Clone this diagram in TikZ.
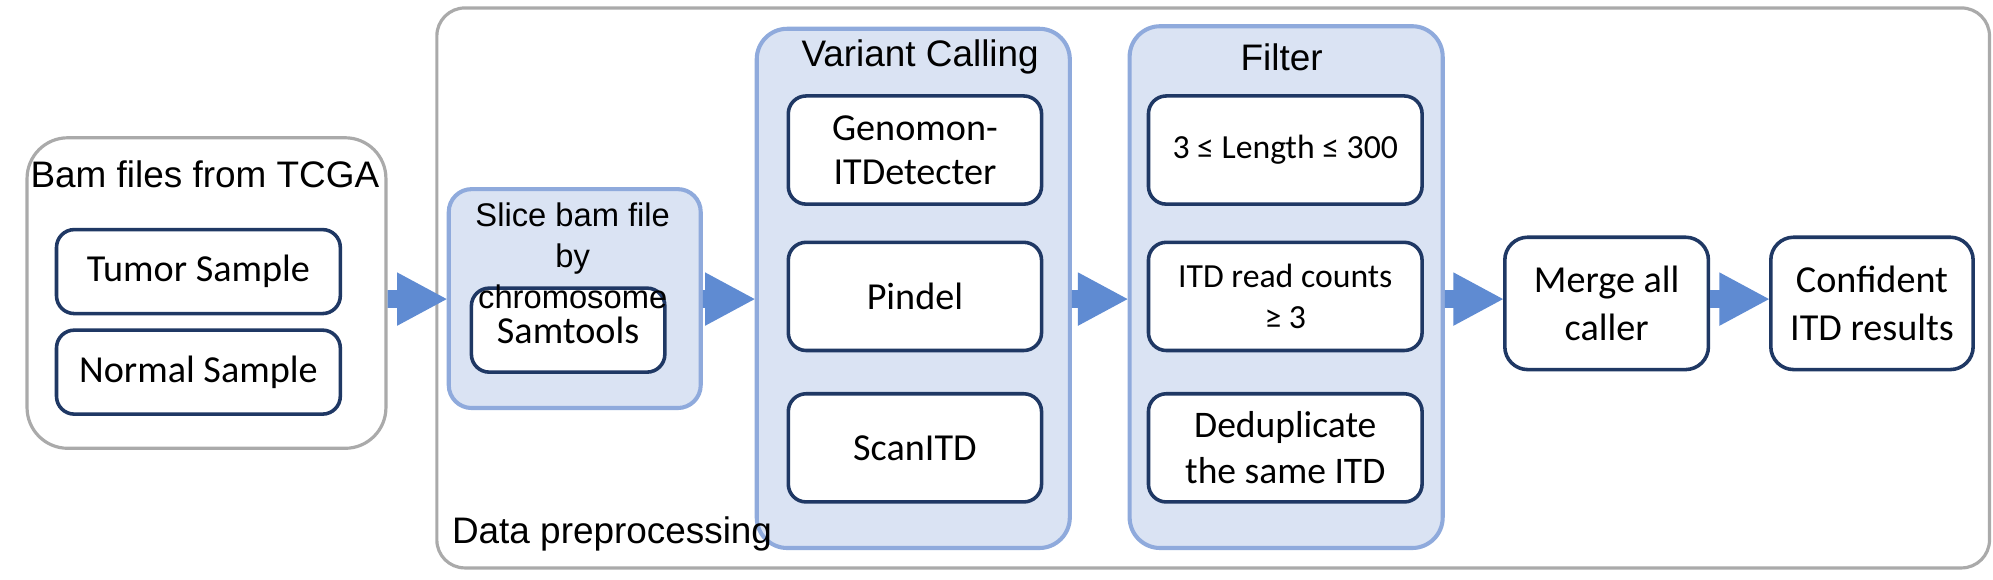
\documentclass[tikz,border=0pt]{standalone}
\usepackage{fontspec}
\setmainfont{Carlito}
\newfontfamily\arialf{Liberation Sans}
\usetikzlibrary{calc}
\definecolor{navyc}{RGB}{31,56,100}
\definecolor{grayc}{RGB}{170,170,170}
\definecolor{blueborder}{RGB}{143,170,220}
\definecolor{bluefill}{RGB}{218,227,243}
\definecolor{arrowc}{RGB}{95,139,210}
\newcommand\fsTitle{\arialf\fontsize{29}{32}\selectfont}
\newcommand\fsBox{\fontsize{30}{36}\selectfont}
\newcommand\fsSmall{\fontsize{26.5}{32}\selectfont}
\newcommand\blockarrow[2]{%
  \fill[arrowc] let \p1=(#1.east), \p2=(#2.west), \p3=(0,235) in
    (\x1,{\y3+7pt}) -- ({\x2-39pt},{\y3+7pt}) -- ({\x2-39pt},{\y3+21pt}) -- (\x2,\y3)
    -- ({\x2-39pt},{\y3-21pt}) -- ({\x2-39pt},{\y3-7pt}) -- (\x1,{\y3-7pt}) -- cycle;}
\tikzset{
  graybox/.style={draw=grayc, line width=2.5pt, fill=white, inner sep=0pt, anchor=north west},
  bluebox/.style={draw=blueborder, line width=3.2pt, fill=bluefill, inner sep=0pt, anchor=north west, rounded corners=24pt},
  navybox/.style={draw=navyc, line width=2.8pt, fill=white, inner sep=0pt, anchor=north west, rounded corners=14pt, align=center, font=\fsBox},
  titletext/.style={inner sep=0pt, font=\fsTitle, align=center},
}
\begin{document}
\begin{tikzpicture}[x=1pt,y=-1pt]
\useasboundingbox (0,0) rectangle (1566,455);
% outer frames
\node[graybox, rounded corners=32pt, minimum width=282pt, minimum height=244pt] (bam) at (20,107) {};
\node[titletext] (bamt) at (161,137) {Bam files from TCGA};
\node[navybox, minimum width=223pt, minimum height=66pt] (tumor) at (43,179) {Tumor Sample};
\node[navybox, minimum width=223pt, minimum height=66pt] (normal) at (43,258) {Normal Sample};

\node[graybox, rounded corners=22pt, minimum width=1220pt, minimum height=440pt] (pre) at (342,5) {};

% slice
\node[bluebox, rounded corners=18pt, minimum width=198pt, minimum height=172pt] (slice) at (351,147) {};
\node[navybox, minimum width=152pt, minimum height=66pt] (samtools) at (369,225) {\raisebox{-8pt}{Samtools}};
\node[titletext, font=\arialf\fontsize{25.7}{32}\selectfont] (slicet) at (450,201) {Slice bam file\\by\\chromosome};

% variant calling
\node[bluebox, minimum width=246pt, minimum height=408pt] (variant) at (593,21) {};
\node[titletext] (variantt) at (723,45) {Variant Calling};
\node[navybox, minimum width=199pt, minimum height=85pt, font=\fontsize{30}{35}\selectfont] (genomon) at (618,74) {Genomon-\\ITDetecter};
\node[navybox, minimum width=199pt, minimum height=85pt] (pindel) at (618,189) {Pindel};
\node[navybox, minimum width=199pt, minimum height=85pt] (scanitd) at (618,308) {ScanITD};

\node[titletext, anchor=base west] (pret) at (355,427) {Data preprocessing};

% filter
\node[bluebox, minimum width=246pt, minimum height=410pt] (filter) at (886,19) {};
\node[titletext] (filtert) at (1007,45) {Filter};
\node[navybox, minimum width=215pt, minimum height=85pt, font=\fsSmall] (length) at (901,74) {3 ≤ Length ≤ 300};
\node[navybox, minimum width=215pt, minimum height=85pt, font=\fsSmall] (reads) at (901,189) {ITD read counts\\≥ 3};
\node[navybox, minimum width=215pt, minimum height=85pt, font=\fontsize{29.5}{36}\selectfont] (dedup) at (901,308) {Deduplicate\\the same ITD};

% merge / confident
\node[navybox, rounded corners=18pt, minimum width=160pt, minimum height=104pt, font=\fontsize{30}{38}\selectfont] (merge) at (1181,185) {Merge all\\caller};
\node[navybox, rounded corners=18pt, minimum width=159pt, minimum height=104pt, font=\fontsize{30}{38}\selectfont] (confident) at (1390,185) {Confident\\ITD results};

% arrows
\blockarrow{bam}{slice}
\blockarrow{slice}{variant}
\blockarrow{variant}{filter}
\blockarrow{filter}{merge}
\blockarrow{merge}{confident}
\end{tikzpicture}
\end{document}
